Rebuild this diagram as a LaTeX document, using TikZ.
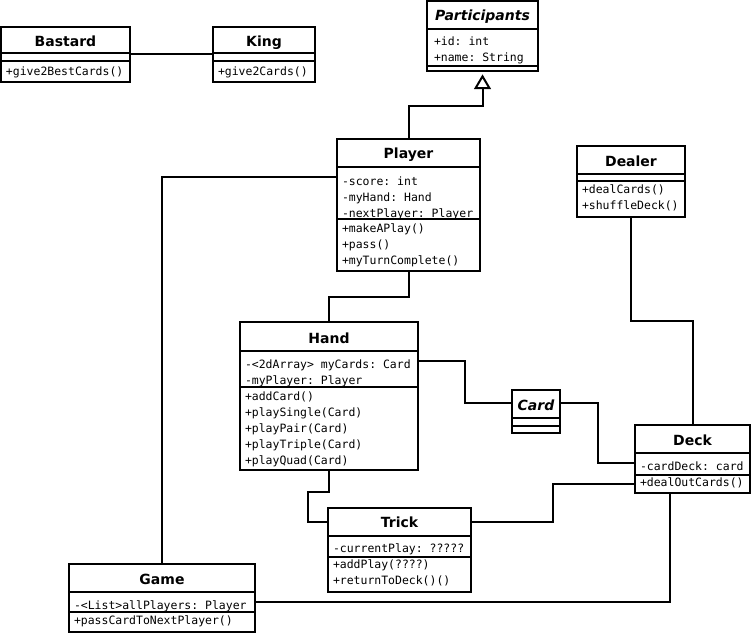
\documentclass[tikz,border=0pt]{standalone}
\usepackage{fontspec}
\setmainfont{DejaVu Sans}
\setmonofont{DejaVu Sans Mono}
\usetikzlibrary{fit,arrows.meta}

\begin{document}
\begin{tikzpicture}[x=0.75pt, y=-0.75pt, line width=1.5pt,
    cls/.style={draw, inner sep=0pt, outer sep=0pt},
    ttl/.style={font=\fontsize{10.5}{12}\selectfont\bfseries, inner sep=0pt, anchor=base},
    ttli/.style={ttl, font=\fontsize{10.5}{12}\selectfont\bfseries\itshape},
    txt/.style={font=\fontsize{8.6}{12}\selectfont\ttfamily, align=left, inner sep=0pt, anchor=base west}]
  \fill[white] (0,0) rectangle (752,635);
  \useasboundingbox (0,0) rectangle (752,635);

  \foreach \n/\xa/\ya/\xb/\yb in {bastard/1/27/130/82, king/213/27/315/82, participants/427/1/538/71,
      player/337/139/480/271, dealer/577/146/685/217, hand/240/322/418/470, card/512/390/560/433,
      deck/635/425/750/493, trick/328/508/471/592, game/69/564/255/632}
    \node[cls, fit={(\xa,\ya) (\xb,\yb)}] (\n) {};

  \node[ttl] (bastard-t) at (bastard.north |- 0,46.5) {Bastard};
  \node[ttl] (king-t) at (king.north |- 0,46.5) {King};
  \node[ttli] (participants-t) at (participants.north |- 0,20.5) {Participants};
  \node[ttl] (player-t) at (player.north |- 0,158) {Player};
  \node[ttl] (dealer-t) at (dealer.north |- 0,166.5) {Dealer};
  \node[ttl] (hand-t) at (hand.north |- 0,343) {Hand};
  \node[ttli] (card-t) at (card.north |- 0,410.5) {Card};
  \node[ttl] (deck-t) at (deck.north |- 0,445) {Deck};
  \node[ttl] (trick-t) at (trick.north |- 0,527.5) {Trick};
  \node[ttl] (game-t) at (game.north |- 0,584) {Game};

  \node[txt] (bastard-m) at (5,75) {+give2BestCards()};
  \node[txt] (king-m) at (217,75) {+give2Cards()};
  \node[txt] (participants-a) at (433,61.5) {+id: int\\+name: String};
  \node[txt] (player-a) at (341,217.5) {-score: int\\-myHand: Hand\\-nextPlayer: Player};
  \node[txt] (player-m) at (341,264.5) {+makeAPlay()\\+pass()\\+myTurnComplete()};
  \node[txt] (dealer-m) at (581,209.5) {+dealCards()\\+shuffleDeck()};
  \node[txt] (hand-a) at (244,384.5) {-<2dArray> myCards: Card\\-myPlayer: Player};
  \node[txt] (hand-m) at (244,464.5) {+addCard()\\+playSingle(Card)\\+playPair(Card)\\+playTriple(Card)\\+playQuad(Card)};
  \node[txt] (deck-a) at (639,470.5) {-cardDeck: card};
  \node[txt] (deck-m) at (639,486) {+dealOutCards()};
  \node[txt] (trick-a) at (332,552.5) {-currentPlay: ?????};
  \node[txt] (trick-m) at (332,584.5) {+addPlay(????)\\+returnToDeck()()};
  \node[txt] (game-a) at (73,609) {-<List>allPlayers: Player};
  \node[txt] (game-m) at (73,624.5) {+passCardToNextPlayer()};

  \foreach \n/\a/\b in {bastard/53/61, king/53/61, participants/29/66, player/167/219, dealer/174/181,
      hand/351/387, card/418/426, deck/453/475, trick/536/557, game/592/612} {
    \draw (\n.west |- 0,\a) -- (\n.east |- 0,\a);
    \draw (\n.west |- 0,\b) -- (\n.east |- 0,\b);
  }

  \draw (bastard) -- (king);
  \draw[-{Triangle[open, length=11pt, width=12.5pt]}, shorten >=2.5pt] (player.north) -- (player.north |- 0,106) -| (participants.south);
  \draw (player.west |- 0,177) -| (game.north);
  \draw (player.south) -- ++(0,26) -| (hand.north);
  \draw (hand.east |- 0,361) -| (465,403) -- (card.west |- 0,403);
  \draw (card.east |- 0,403) -| (598,463) -- (deck.west |- 0,463);
  \draw (dealer.south) -- ++(0,104) -| (deck.north);
  \draw (hand.south) |- (308,492) |- (trick.west |- 0,522);
  \draw (trick.east |- 0,522) -| (553,484) -- (deck.west |- 0,484);
  \draw (game.east |- 0,602) -| (670,0 |- deck.south);
\end{tikzpicture}
\end{document}
